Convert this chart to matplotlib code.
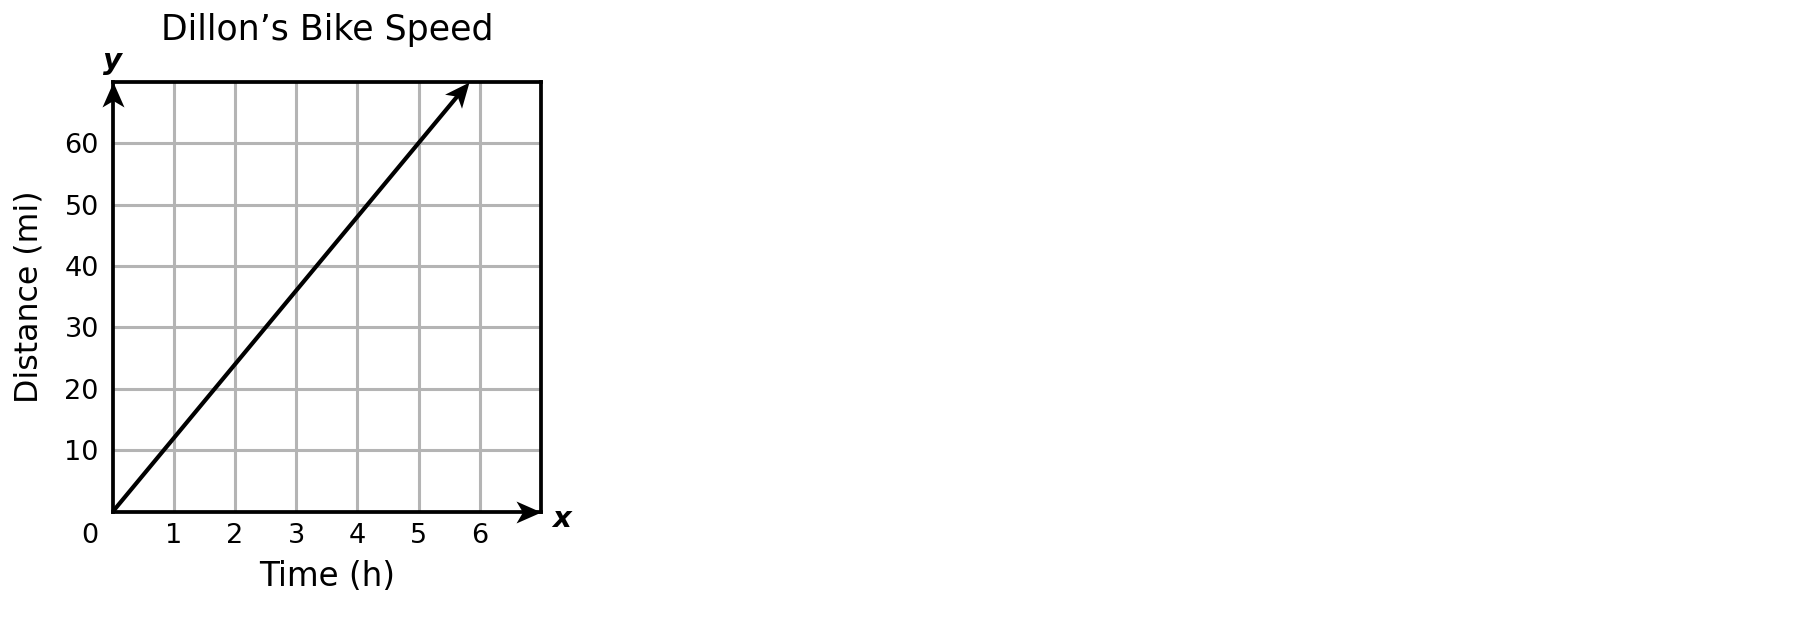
import numpy as np
import matplotlib
matplotlib.use("Agg")
import matplotlib.pyplot as plt
from matplotlib.path import Path
from matplotlib.markers import MarkerStyle
from matplotlib.transforms import Affine2D

# data (12 mi per hour)
time_h = [0, 5.83]
distance_mi = [0, 70]
x_ticks = [1, 2, 3, 4, 5, 6]
y_ticks = [10, 20, 30, 40, 50, 60]
x_max, y_max = 7, 70

plt.rcParams['font.family'] = ['DejaVu Sans']

fig = plt.figure(figsize=(18.12, 6.22), dpi=100)
ax = fig.add_axes([0.0622, 0.1773, 0.2364, 0.6914])
ax.set_xlim(0, x_max); ax.set_ylim(0, y_max)

# grid
ax.set_xticks(x_ticks); ax.set_yticks(y_ticks)
ax.grid(True, color='#b4b4b4', linewidth=2.2)
ax.set_axisbelow(True)
ax.tick_params(length=0, labelsize=19.5)
ax.tick_params(axis='x', pad=8)
ax.tick_params(axis='y', pad=10)
for s in ax.spines.values():
    s.set_linewidth(2.7)
    s.set_color('black')
    s.set_zorder(3)

ax.annotate('0', xy=(0, 0), xycoords='data', xytext=(-16.5, -8), textcoords='offset points',
            ha='center', va='top', fontsize=19.5)

ax.set_title("Dillon\u2019s Bike Speed", fontsize=25, pad=30)
ax.set_xlabel('Time (h)', fontsize=23.5, labelpad=8)
ax.set_ylabel('Distance (mi)', fontsize=22.8, labelpad=14)

ax.annotate('y', xy=(0, y_max), xytext=(0, 5), textcoords='offset points', ha='center', va='bottom',
            fontsize=21, fontweight='bold', style='italic')
ax.annotate('x', xy=(x_max, 0), xytext=(15, -5), textcoords='offset points', ha='center', va='center',
            fontsize=21, fontweight='bold', style='italic')

# stealth arrow head, tip at origin pointing +x
head = Path([(0, 0), (-1, 0.44), (-0.74, 0), (-1, -0.44), (0, 0)],
            [Path.MOVETO, Path.LINETO, Path.LINETO, Path.LINETO, Path.CLOSEPOLY])
ms = 36

def head_at(x, y, angle):
    m = MarkerStyle(head, transform=Affine2D().rotate_deg(angle))
    ax.plot([x], [y], marker=m, markersize=ms, color='black', markeredgewidth=0,
            clip_on=False, zorder=5, linestyle='none')

head_at(0, y_max, 90)
head_at(x_max, 0, 0)

# the line
p0 = ax.transData.transform((time_h[0], distance_mi[0]))
p1 = ax.transData.transform((time_h[-1], distance_mi[-1]))
d = p1 - p0
ang = np.degrees(np.arctan2(d[1], d[0]))
back = ms / 2 * 0.74 * fig.dpi / 72
p_end = p1 - d / np.hypot(*d) * back
end = ax.transData.inverted().transform(p_end)
ax.plot([time_h[0], end[0]], [distance_mi[0], end[1]], color='black', linewidth=3.0,
        solid_capstyle='butt', zorder=4, clip_on=False)
head_at(time_h[-1], distance_mi[-1], ang)

fig.savefig('out.png', dpi=100, facecolor='white')
